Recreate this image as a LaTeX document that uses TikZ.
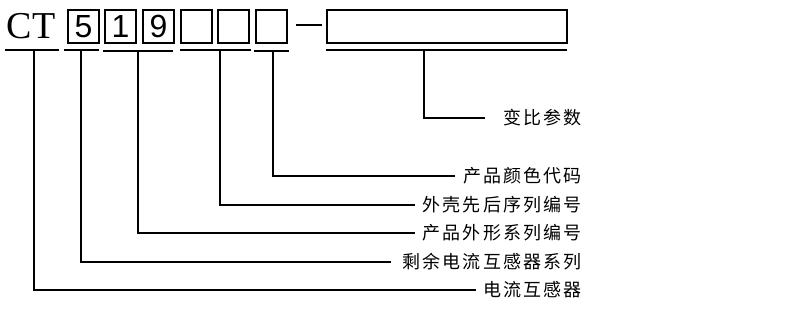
\documentclass[tikz,border=0pt]{standalone}
\usepackage{fontspec}
\setmainfont{Liberation Serif}
\newfontfamily\cjk[LetterSpace=12]{Noto Sans CJK SC}
\newfontfamily\digitfont{Liberation Sans}
\begin{document}
\begin{tikzpicture}[x=1pt,y=-1pt,
  ln/.style={line width=2pt},
  digbox/.style={draw,line width=2pt,minimum width=31pt,minimum height=33pt,inner sep=0pt,anchor=north west,font=\digitfont\fontsize{32}{32}\selectfont},
  lbl/.style={anchor=east,inner sep=0pt,font=\cjk\fontsize{18}{20}\selectfont}]
\useasboundingbox (0,0) rectangle (793,317);
% head
\node[anchor=base,inner sep=0pt,font=\fontsize{38}{38}\selectfont] (ct) at (31,38) {CT};
\node[digbox] (b1) at (67,9) {5};
\node[digbox] (b2) at (104,9) {1};
\node[digbox] (b3) at (142,9) {9};
\node[digbox] (b4) at (180,9) {};
\node[digbox] (b5) at (217,9) {};
\node[digbox] (b6) at (255,9) {};
\coordinate (d1) at (296,25);
\coordinate (d2) at (322,25);
\draw[ln] (d1) -- (d2);
\node[draw,line width=2pt,minimum width=240pt,minimum height=33pt,inner sep=0pt,anchor=north west] (bl) at (326,9) {};
% underlines
\coordinate (u1a) at (5,50);   \coordinate (u1b) at (59,50);
\coordinate (u2a) at (64,50);  \coordinate (u2b) at (99,50);
\coordinate (u3a) at (103,51); \coordinate (u3b) at (173,51);
\coordinate (u4a) at (180,50); \coordinate (u4b) at (251,50);
\coordinate (u5a) at (254,51); \coordinate (u5b) at (289,51);
\coordinate (u6a) at (326,50); \coordinate (u6b) at (567,50);
\foreach \i in {1,...,6} {\draw[ln] (u\i a) -- (u\i b);}
\coordinate (s1) at (34,50);
\coordinate (s2) at (81,50);
\coordinate (s3) at (138,51);
\coordinate (s4) at (220,50);
\coordinate (s5) at (273,51);
\coordinate (s6) at (424,50);
% labels
\node[lbl] (l6) at (582,118) {变比参数};
\node[lbl] (l5) at (582,176) {产品颜色代码};
\node[lbl] (l4) at (582,205) {外壳先后序列编号};
\node[lbl] (l3) at (582,233) {产品外形系列编号};
\node[lbl] (l2) at (582,262) {剩余电流互感器系列};
\node[lbl] (l1) at (582,290) {电流互感器};
% leaders
\draw[ln] (s6) |- ([xshift=-18pt]l6.west);
\draw[ln] (s5) |- ([xshift=-8pt]l5.west);
\draw[ln] (s4) |- ([xshift=-7pt]l4.west);
\draw[ln] (s3) |- ([xshift=-7pt]l3.west);
\draw[ln] (s2) |- ([xshift=-11pt]l2.west);
\draw[ln] (s1) |- ([xshift=-7pt]l1.west);
\end{tikzpicture}
\end{document}
